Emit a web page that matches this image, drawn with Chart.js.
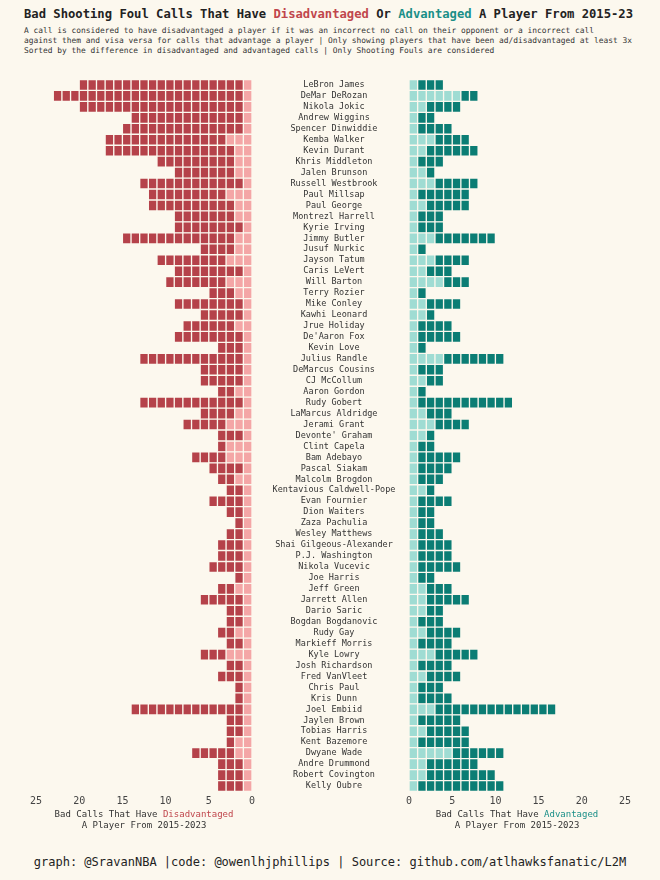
<!DOCTYPE html>
<html>
<head>
<meta charset="utf-8">
<script src="https://cdn.jsdelivr.net/npm/chart.js@4.4.1/dist/chart.umd.min.js"></script>
<style>
  body {
    margin: 0;
    width: 660px;
    height: 880px;
    position: relative;
    overflow: hidden;
    background: #fcf8ee;
    font-family: "DejaVu Sans Mono", monospace;
    color: #222;
  }
  .abs { position: absolute; white-space: nowrap; }
  #title { left: 24px; top: 7px; font-size: 12.2px; font-weight: bold; }
  #subtitle { left: 24px; top: 26px; font-size: 7.9px; line-height: 10px; color: #333; }
  .axis-title { top: 809px; width: 260px; text-align: center; font-size: 9px; line-height: 11px; color: #333; }
  #footer { left: 0; width: 660px; top: 855px; text-align: center; font-size: 12px; color: #222; }
  .red { color: #c0464c; }
  .teal { color: #1a8f88; }
  .box { position: absolute; top: 70px; height: 770px; }
  canvas { display: block; }
</style>
</head>
<body>
<div id="title" class="abs">Bad Shooting Foul Calls That Have <span class="red">Disadvantaged</span> Or <span class="teal">Advantaged</span> A Player From 2015-23</div>
<div id="subtitle" class="abs">A call is considered to have disadvantaged a player if it was an incorrect no call on their opponent or a incorrect call<br>against them and visa versa for calls that advantage a player | Only showing players that have been ad/disadvantaged at least 3x<br>Sorted by the difference in disadvantaged and advantaged calls | Only Shooting Fouls are considered</div>

<div class="box" style="left:0; width:262px;"><canvas id="leftChart"></canvas></div>
<div class="box" style="left:262px; width:398px;"><canvas id="rightChart"></canvas></div>

<div class="abs axis-title" style="left:14px;">Bad Calls That Have <span class="red">Disadvantaged</span><br>A Player From 2015-2023</div>
<div class="abs axis-title" style="left:387px;">Bad Calls That Have <span class="teal">Advantaged</span><br>A Player From 2015-2023</div>
<div id="footer" class="abs">graph: @SravanNBA |code: @owenlhjphillips | Source: github.com/atlhawksfanatic/L2M</div>

<script>
// Players, sorted by disadvantaged minus advantaged
const players = [
  'LeBron James', 'DeMar DeRozan', 'Nikola Jokic', 'Andrew Wiggins', 'Spencer Dinwiddie',
  'Kemba Walker', 'Kevin Durant', 'Khris Middleton', 'Jalen Brunson', 'Russell Westbrook',
  'Paul Millsap', 'Paul George', 'Montrezl Harrell', 'Kyrie Irving', 'Jimmy Butler',
  'Jusuf Nurkic', 'Jayson Tatum', 'Caris LeVert', 'Will Barton', 'Terry Rozier',
  'Mike Conley', 'Kawhi Leonard', 'Jrue Holiday', "De'Aaron Fox", 'Kevin Love',
  'Julius Randle', 'DeMarcus Cousins', 'CJ McCollum', 'Aaron Gordon', 'Rudy Gobert',
  'LaMarcus Aldridge', 'Jerami Grant', "Devonte' Graham", 'Clint Capela', 'Bam Adebayo',
  'Pascal Siakam', 'Malcolm Brogdon', 'Kentavious Caldwell-Pope', 'Evan Fournier', 'Dion Waiters',
  'Zaza Pachulia', 'Wesley Matthews', 'Shai Gilgeous-Alexander', 'P.J. Washington', 'Nikola Vucevic',
  'Joe Harris', 'Jeff Green', 'Jarrett Allen', 'Dario Saric', 'Bogdan Bogdanovic',
  'Rudy Gay', 'Markieff Morris', 'Kyle Lowry', 'Josh Richardson', 'Fred VanVleet',
  'Chris Paul', 'Kris Dunn', 'Joel Embiid', 'Jaylen Brown', 'Tobias Harris',
  'Kent Bazemore', 'Dwyane Wade', 'Andre Drummond', 'Robert Covington', 'Kelly Oubre'
];

// Disadvantaged calls: total and how many of them are the light blocks
const disTotal = [20, 23, 20, 14, 15, 17, 17, 11, 9, 13,
  12, 12, 9, 9, 15, 6, 11, 9, 10, 5,
  9, 6, 8, 9, 4, 13, 6, 6, 4, 13,
  6, 8, 4, 4, 7, 5, 4, 3, 5, 3,
  2, 3, 4, 4, 5, 2, 4, 6, 3, 3,
  4, 3, 6, 3, 4, 2, 2, 14, 3, 3,
  3, 7, 4, 4, 4];
const disLight = [1, 1, 1, 1, 1, 3, 2, 2, 2, 1,
  3, 2, 2, 1, 2, 2, 3, 1, 3, 2,
  1, 1, 2, 1, 1, 1, 1, 1, 2, 1,
  2, 3, 1, 3, 3, 1, 2, 1, 1, 1,
  1, 1, 1, 1, 1, 1, 2, 1, 1, 1,
  2, 1, 3, 1, 1, 1, 1, 1, 1, 1,
  2, 2, 1, 1, 1];

// Advantaged calls
const advTotal = [4, 8, 6, 3, 5, 7, 8, 4, 3, 8,
  7, 7, 4, 4, 10, 2, 7, 5, 7, 2,
  6, 3, 5, 6, 2, 11, 4, 4, 2, 12,
  5, 7, 3, 3, 6, 5, 4, 3, 5, 3,
  3, 4, 5, 5, 6, 3, 5, 7, 4, 4,
  6, 5, 8, 5, 6, 4, 5, 17, 6, 7,
  7, 11, 8, 10, 11];
const advLight = [1, 6, 2, 1, 1, 3, 2, 1, 2, 3,
  1, 2, 1, 1, 3, 1, 3, 2, 4, 1,
  2, 2, 1, 1, 1, 4, 1, 2, 1, 1,
  2, 3, 2, 1, 1, 1, 1, 2, 1, 1,
  1, 1, 1, 1, 1, 1, 2, 2, 2, 1,
  2, 1, 3, 1, 2, 1, 1, 3, 1, 2,
  1, 5, 2, 2, 1];

const xTicks = [0, 5, 10, 15, 20, 25];

const BG = '#fcf8ee';
const RED_DARK = '#b5424a';
const RED_LIGHT = '#f4a6a6';
const TEAL_DARK = '#0b7d74';
const TEAL_LIGHT = '#9fdcd3';

// one stacked dataset per block column -> waffle squares
function makeBlocks(total, light, lightColor, darkColor) {
  const maxN = Math.max(...total);
  const sets = [];
  for (let k = 1; k <= maxN; k++) {
    sets.push({
      data: total.map(t => (t >= k ? 1 : null)),
      backgroundColor: light.map(l => (k <= l ? lightColor : darkColor)),
      borderColor: BG,
      borderWidth: 1,
      borderSkipped: false,
      barPercentage: 1,
      categoryPercentage: 1,
      stack: 'blocks'
    });
  }
  return sets;
}

const tickFont = { family: 'DejaVu Sans Mono', size: 10 };

function xScale(reverse) {
  return {
    stacked: true,
    reverse: reverse,
    min: 0,
    max: 25,
    afterBuildTicks: s => { s.ticks = xTicks.map(v => ({ value: v })); },
    afterFit: s => { s.height = 20; },
    ticks: { font: tickFont, color: '#444', padding: 4, maxRotation: 0 },
    grid: { display: false, drawTicks: false },
    border: { display: false }
  };
}

const baseOptions = {
  indexAxis: 'y',
  animation: false,
  responsive: true,
  maintainAspectRatio: false,
  plugins: {
    legend: { display: false },
    tooltip: { enabled: false }
  }
};

new Chart(document.getElementById('leftChart'), {
  type: 'bar',
  data: {
    labels: players,
    datasets: makeBlocks(disTotal, disLight, RED_LIGHT, RED_DARK)
  },
  options: {
    ...baseOptions,
    layout: { padding: { left: 36, right: 10, top: 9.5, bottom: 28.5 } },
    scales: {
      x: xScale(true),
      y: { stacked: true, display: false }
    }
  }
});

new Chart(document.getElementById('rightChart'), {
  type: 'bar',
  data: {
    labels: players,
    datasets: makeBlocks(advTotal, advLight, TEAL_LIGHT, TEAL_DARK)
  },
  options: {
    ...baseOptions,
    layout: { padding: { left: 0, right: 35, top: 9.5, bottom: 28.5 } },
    scales: {
      x: xScale(false),
      y: {
        stacked: true,
        afterFit: s => { s.width = 147; },
        ticks: {
          autoSkip: false,
          crossAlign: 'center',
          padding: 0,
          font: { family: 'DejaVu Sans Mono', size: 8.5 },
          color: '#333'
        },
        // invisible tick marks only used to push the centred names left
        grid: { display: false, drawTicks: true, tickLength: 13.6 },
        border: { display: false }
      }
    }
  }
});
</script>
</body>
</html>
